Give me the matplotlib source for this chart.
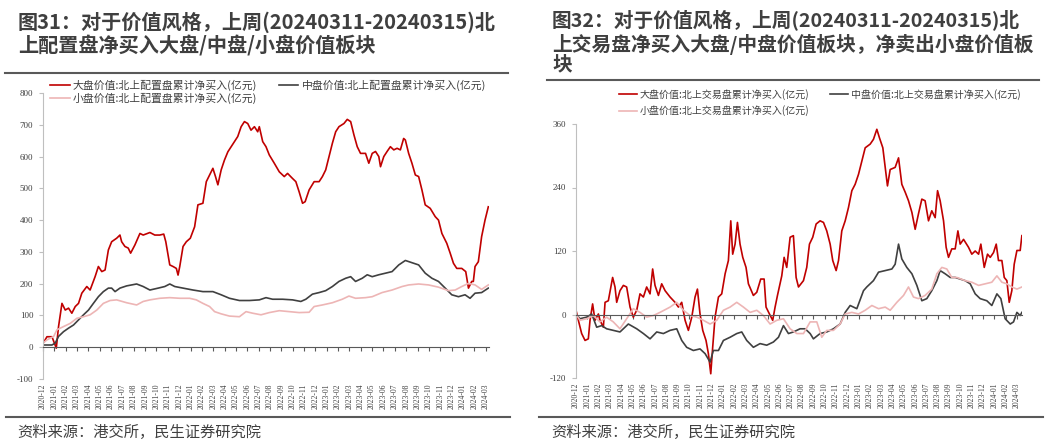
import numpy as np
import pandas as pd
import matplotlib
matplotlib.use('Agg')
import matplotlib.pyplot as plt
from matplotlib.lines import Line2D

plt.rcParams['font.family'] = ['Noto Sans CJK SC', 'DejaVu Sans']

# 横轴标签: 每月一个
months = pd.date_range('2020-12-01', '2024-03-01', freq='MS').strftime('%Y-%m').tolist()

# 横坐标 = 距 2020-12-01 的月数; 纵坐标 = 累计净买入(亿元)
# ---- 图31 北上配置盘 ----
cfg_large_x = [0.00, 0.35, 0.79, 1.17, 1.37, 1.67, 1.96, 2.25, 2.54, 2.84,
               3.13, 3.42, 3.86, 4.15, 4.59, 4.88, 5.18, 5.47, 5.76, 6.05,
               6.49, 6.78, 6.93, 7.22, 7.51, 7.72, 8.10, 8.54, 8.83, 9.42,
               9.85, 10.29, 10.64, 10.82, 11.17, 11.46, 11.75, 11.90, 12.05, 12.34,
               12.63, 12.98, 13.36, 13.65, 14.09, 14.39, 14.68, 14.97, 15.20, 15.41,
               15.70, 15.99, 16.29, 16.58, 16.87, 17.16, 17.46, 17.75, 18.04, 18.33,
               18.63, 18.92, 19.06, 19.36, 19.65, 19.94, 20.38, 20.82, 21.26, 21.55,
               21.99, 22.28, 22.57, 22.87, 23.10, 23.45, 23.89, 24.33, 24.62, 24.91,
               25.20, 25.50, 25.79, 26.08, 26.52, 26.81, 27.11, 27.40, 27.69, 27.98,
               28.42, 28.71, 29.01, 29.30, 29.59, 29.74, 30.03, 30.32, 30.61, 30.91,
               31.20, 31.49, 31.78, 31.93, 32.22, 32.51, 32.81, 33.10, 33.39, 33.68,
               34.12, 34.56, 34.85, 35.15, 35.58, 35.88, 36.17, 36.46, 36.90, 37.25,
               37.49, 37.78, 37.92, 38.07, 38.36, 38.65, 38.95, 39.24]
cfg_large_y = [12, 33, 33, -3, 65, 138, 117, 123, 107, 128,
               138, 170, 191, 180, 222, 254, 238, 243, 306, 332,
               343, 353, 332, 317, 312, 296, 322, 358, 353, 361,
               353, 353, 356, 332, 259, 254, 248, 227, 254, 317,
               332, 343, 379, 448, 453, 521, 542, 563, 537, 511,
               558, 589, 615, 631, 647, 663, 694, 710, 704, 683,
               694, 678, 694, 647, 631, 605, 579, 552, 537, 547,
               531, 521, 489, 453, 458, 495, 521, 521, 537, 558,
               600, 642, 678, 694, 704, 717, 710, 668, 631, 610,
               610, 579, 610, 616, 600, 568, 600, 616, 631, 621,
               626, 621, 657, 652, 610, 579, 542, 537, 495, 448,
               437, 411, 400, 358, 327, 296, 264, 248, 248, 238,
               186, 207, 207, 254, 269, 348, 400, 442]

cfg_mid_x = [0.00, 0.35, 0.79, 1.08, 1.37, 1.81, 2.25, 2.69, 3.13, 3.57,
             4.01, 4.44, 4.88, 5.32, 5.76, 6.05, 6.35, 6.78, 7.37, 8.25,
             8.83, 9.42, 10.15, 10.73, 11.17, 11.61, 12.34, 13.22, 14.09, 14.97,
             15.70, 16.43, 17.31, 18.19, 19.06, 19.65, 20.23, 21.11, 21.99, 22.72,
             23.16, 23.74, 24.33, 24.91, 25.50, 26.08, 26.67, 27.11, 27.54, 28.13,
             28.57, 29.01, 29.59, 30.18, 30.76, 31.35, 31.93, 32.51, 33.10, 33.68,
             34.27, 34.85, 35.44, 36.02, 36.61, 37.19, 37.63, 38.07, 38.65, 39.24]
cfg_mid_y = [7, 7, 7, 13, 34, 49, 60, 70, 86, 102,
             117, 138, 159, 175, 186, 186, 175, 186, 193, 199,
             191, 180, 186, 191, 199, 191, 186, 180, 175, 175,
             165, 154, 147, 147, 149, 156, 151, 151, 149, 144,
             151, 167, 172, 178, 191, 207, 217, 222, 207, 217,
             228, 222, 228, 233, 238, 259, 273, 266, 259, 233,
             217, 207, 186, 165, 159, 165, 154, 170, 172, 186]

cfg_small_x = [0.00, 0.35, 0.94, 1.23, 1.81, 2.40, 2.98, 3.57, 4.15, 4.74,
               5.32, 5.91, 6.49, 7.37, 8.25, 8.83, 9.42, 10.29, 11.17, 12.05,
               12.92, 13.51, 14.09, 14.68, 15.12, 15.70, 16.43, 17.31, 17.89, 18.48,
               19.21, 19.94, 20.82, 21.70, 22.57, 23.45, 23.89, 24.62, 25.50, 26.37,
               26.96, 27.54, 28.42, 29.01, 29.88, 30.76, 31.64, 32.22, 33.10, 33.98,
               34.85, 35.73, 36.32, 36.90, 37.49, 38.07, 38.65, 39.24]
cfg_small_y = [13, 23, 34, 55, 65, 75, 91, 96, 102, 117,
               138, 147, 149, 140, 133, 144, 149, 154, 156, 154,
               154, 149, 138, 128, 112, 105, 98, 96, 112, 107,
               102, 109, 115, 112, 109, 110, 128, 133, 140, 151,
               161, 154, 156, 159, 172, 180, 191, 196, 199, 196,
               189, 178, 180, 191, 201, 196, 182, 196]

# ---- 图32 北上交易盘 ----
trd_large_x = [0.00, 0.21, 0.50, 0.80, 1.09, 1.24, 1.47, 1.68, 1.98, 2.12,
               2.42, 2.57, 2.86, 3.24, 3.45, 3.60, 3.89, 4.19, 4.48, 4.78,
               5.07, 5.37, 5.66, 5.96, 6.25, 6.55, 6.78, 6.99, 7.29, 7.58,
               7.88, 8.32, 8.76, 9.06, 9.35, 9.65, 9.94, 10.24, 10.53, 10.74,
               10.97, 11.21, 11.50, 11.71, 11.92, 12.09, 12.30, 12.60, 12.89, 13.19,
               13.48, 13.69, 13.86, 14.07, 14.28, 14.51, 14.75, 15.04, 15.25, 15.69,
               15.99, 16.34, 16.64, 16.81, 17.11, 17.40, 17.61, 17.82, 18.20, 18.41,
               18.64, 18.94, 19.23, 19.47, 19.68, 20.12, 20.41, 20.65, 20.94, 21.24,
               21.59, 21.89, 22.18, 22.48, 22.71, 23.01, 23.22, 23.51, 23.81, 24.10,
               24.40, 24.69, 24.99, 25.28, 25.58, 26.02, 26.31, 26.61, 26.84, 27.14,
               27.35, 27.55, 27.79, 28.23, 28.53, 28.82, 29.12, 29.41, 29.71, 30.00,
               30.29, 30.59, 30.88, 31.18, 31.47, 31.77, 31.98, 32.21, 32.51, 32.74,
               32.95, 33.24, 33.54, 33.78, 33.98, 34.28, 34.72, 35.01, 35.31, 35.61,
               35.81, 36.11, 36.40, 36.64, 36.93, 37.17, 37.37, 37.67, 37.88, 38.11,
               38.32, 38.55, 38.76, 39.00, 39.29, 39.44]
trd_large_y = [8, -11, -36, -49, -46, -11, 20, -11, 1, -11,
               -24, 23, 26, 70, 52, 23, 45, 55, 52, 14,
               -5, 8, 39, 33, 52, 39, 86, 55, 36, 58,
               45, 33, 23, 14, 23, -11, -30, -5, 33, 48,
               1, -30, -49, -74, -112, -62, -5, 33, 39, 77,
               102, 177, 114, 133, 174, 133, 108, 89, 58, 36,
               42, 67, 67, 14, 1, -11, 14, 36, 73, 108,
               89, 146, 149, 70, 52, 64, 89, 133, 146, 171,
               177, 174, 158, 133, 102, 83, 102, 158, 177, 202,
               234, 246, 265, 290, 315, 322, 331, 350, 334, 315,
               278, 243, 274, 278, 296, 246, 231, 215, 193, 161,
               190, 218, 215, 177, 196, 183, 234, 215, 177, 127,
               108, 124, 124, 158, 133, 142, 127, 114, 120, 114,
               133, 89, 114, 108, 117, 133, 102, 102, 70, 64,
               23, 45, 95, 121, 121, 149]

trd_mid_x = [0.00, 0.35, 0.94, 1.39, 1.83, 2.27, 2.71, 3.30, 3.89, 4.63,
             5.37, 5.96, 6.55, 7.14, 7.73, 8.32, 8.91, 9.35, 9.79, 10.38,
             10.97, 11.42, 11.86, 12.15, 12.60, 13.04, 13.63, 14.22, 14.66, 15.10,
             15.69, 16.28, 16.87, 17.46, 17.91, 18.35, 18.79, 19.23, 19.82, 20.27,
             20.71, 21.00, 21.59, 22.18, 22.77, 23.36, 23.81, 24.25, 24.84, 25.43,
             25.72, 26.31, 26.76, 27.35, 27.94, 28.23, 28.53, 28.82, 29.26, 29.71,
             30.15, 30.59, 31.03, 31.47, 31.92, 32.21, 32.65, 33.10, 33.54, 33.98,
             34.42, 34.87, 35.31, 35.75, 36.34, 36.78, 37.23, 37.58, 37.96, 38.41,
             38.70, 39.00, 39.29, 39.44]
trd_mid_y = [1, -8, -5, 1, -24, -21, -27, -30, -33, -18,
             -27, -36, -46, -33, -36, -30, -27, -49, -62, -68,
             -65, -74, -90, -68, -68, -49, -43, -36, -33, -49,
             -62, -55, -58, -52, -43, -21, -36, -33, -27, -27,
             -36, -46, -36, -33, -27, -18, 4, 17, 11, 45,
             52, 64, 80, 83, 86, 95, 133, 105, 89, 77,
             55, 26, 30, 45, 64, 83, 77, 70, 70, 67,
             64, 58, 39, 30, 26, 17, 39, 30, -8, -18,
             -14, 4, -2, 4]

trd_small_x = [0.00, 0.35, 0.94, 1.53, 2.12, 2.71, 3.30, 3.89, 4.48, 5.07,
               5.66, 6.25, 6.84, 7.43, 8.32, 8.91, 9.50, 10.09, 10.68, 11.27,
               11.86, 12.45, 13.04, 13.63, 14.22, 14.81, 15.40, 15.99, 16.58, 17.17,
               17.76, 18.35, 18.94, 19.53, 20.12, 20.71, 21.30, 21.74, 22.18, 22.77,
               23.36, 23.81, 24.40, 24.99, 25.58, 26.17, 26.76, 27.35, 27.79, 28.38,
               28.97, 29.41, 29.85, 30.29, 30.88, 31.47, 31.92, 32.36, 32.80, 33.24,
               33.69, 34.42, 35.01, 35.61, 36.20, 36.78, 37.23, 37.67, 38.11, 38.55,
               39.00, 39.44]
trd_small_y = [1, -11, -8, -2, -14, -5, -14, -27, -8, 11,
               4, -5, -2, 4, 14, 23, 8, -2, -5, -11,
               -18, -11, 8, 14, 23, 14, 4, 8, -2, -18,
               -11, -8, -27, -36, -36, -14, -14, -43, -30, -30,
               -18, 1, 4, 1, 8, 17, 11, 14, 8, 23,
               36, 52, 33, 30, 36, 48, 77, 89, 86, 70,
               70, 64, 61, 55, 58, 61, 73, 61, 58, 52,
               48, 52]

c_large = '#C00000'
c_mid = '#404040'
c_small = '#EDB5B5'
txt = '#404040'
serif = 'Liberation Serif'

W, H = 1049, 446
fig = plt.figure(figsize=(W / 100, H / 100), dpi=100)


def panel(rect, large, mid, small, labels, ylim, yticks, xmax, leg_pos, leg_fs, leg_sp, col_sp):
    ax = fig.add_axes(rect)
    l1, = ax.plot(*large, color=c_large, lw=1.2)
    l2, = ax.plot(*mid, color=c_mid, lw=1.2)
    l3, = ax.plot(*small, color=c_small, lw=1.2)
    ax.set_xlim(0, xmax)
    ax.set_ylim(*ylim)
    ax.set_yticks(yticks, labels=[str(v) for v in yticks], fontfamily=serif,
                  fontsize=6.5, color=txt)
    ax.tick_params(axis='y', length=3, color='#bfbfbf', pad=4)
    for s in ['top', 'right']:
        ax.spines[s].set_visible(False)
    ax.spines['left'].set_color('#bfbfbf')
    ax.spines['bottom'].set_position(('data', 0))
    ax.spines['bottom'].set_color('#595959')
    ax.set_xticks(range(len(months)))
    ax.tick_params(axis='x', labelbottom=False, length=3, color='#595959')
    sec = ax.secondary_xaxis(0)
    sec.set_xticks(range(len(months)), labels=months, rotation=90,
                   fontfamily=serif, fontsize=5.5, color=txt)
    sec.tick_params(length=0, pad=3)
    sec.spines['bottom'].set_visible(False)
    ax.legend([l1, l3, l2], [labels[0], labels[2], labels[1]], ncol=2,
              loc='upper left', bbox_to_anchor=leg_pos, bbox_transform=fig.transFigure,
              frameon=False, fontsize=leg_fs, handlelength=1.8, handletextpad=0.3,
              columnspacing=col_sp, labelspacing=leg_sp, borderpad=0, borderaxespad=0,
              labelcolor=txt)
    return ax


cfg_labels = ['大盘价值:北上配置盘累计净买入(亿元)', '中盘价值:北上配置盘累计净买入(亿元)',
              '小盘价值:北上配置盘累计净买入(亿元)']
trd_labels = ['大盘价值:北上交易盘累计净买入(亿元)', '中盘价值:北上交易盘累计净买入(亿元)',
              '小盘价值:北上交易盘累计净买入(亿元)']

panel([43 / W, 1 - 379 / H, 446 / W, 286 / H],
      (cfg_large_x, cfg_large_y), (cfg_mid_x, cfg_mid_y), (cfg_small_x, cfg_small_y),
      cfg_labels, (-100, 800), list(range(-100, 801, 100)), 39.3,
      (50 / W, 1 - 80 / H), 7.8, 0.18, 2.0)

panel([576 / W, 1 - 378 / H, 446 / W, 254 / H],
      (trd_large_x, trd_large_y), (trd_mid_x, trd_mid_y), (trd_small_x, trd_small_y),
      trd_labels, (-120, 360), [-120, 0, 120, 240, 360], 39.45,
      (619 / W, 1 - 89 / H), 7.2, 0.55, 2.0)

# 标题
tkw = dict(fontweight='bold', color='#3f3f3f', va='center', ha='left')
fig.text(18 / W, 1 - 22 / H, '图31：对于价值风格，上周(20240311-20240315)北', fontsize=14.5, **tkw)
fig.text(18 / W, 1 - 46 / H, '上配置盘净买入大盘/中盘/小盘价值板块', fontsize=14.5, **tkw)
fig.text(552 / W, 1 - 20 / H, '图32：对于价值风格，上周(20240311-20240315)北', fontsize=14.2, **tkw)
fig.text(552 / W, 1 - 44 / H, '上交易盘净买入大盘/中盘价值板块，净卖出小盘价值板', fontsize=14.2, **tkw)
fig.text(552 / W, 1 - 65 / H, '块', fontsize=14.2, **tkw)

# 分隔线
for x0, x1, y in [(5, 508, 73), (547, 1039, 80), (6, 510, 417), (539, 1043, 417)]:
    fig.add_artist(Line2D([x0 / W, x1 / W], [1 - y / H, 1 - y / H],
                          transform=fig.transFigure, color='#595959', lw=1.5))

skw = dict(fontsize=11, color=txt, va='center', ha='left')
fig.text(17 / W, 1 - 432 / H, '资料来源：港交所，民生证券研究院', **skw)
fig.text(551 / W, 1 - 432 / H, '资料来源：港交所，民生证券研究院', **skw)

fig.savefig('out.png', dpi=100)
